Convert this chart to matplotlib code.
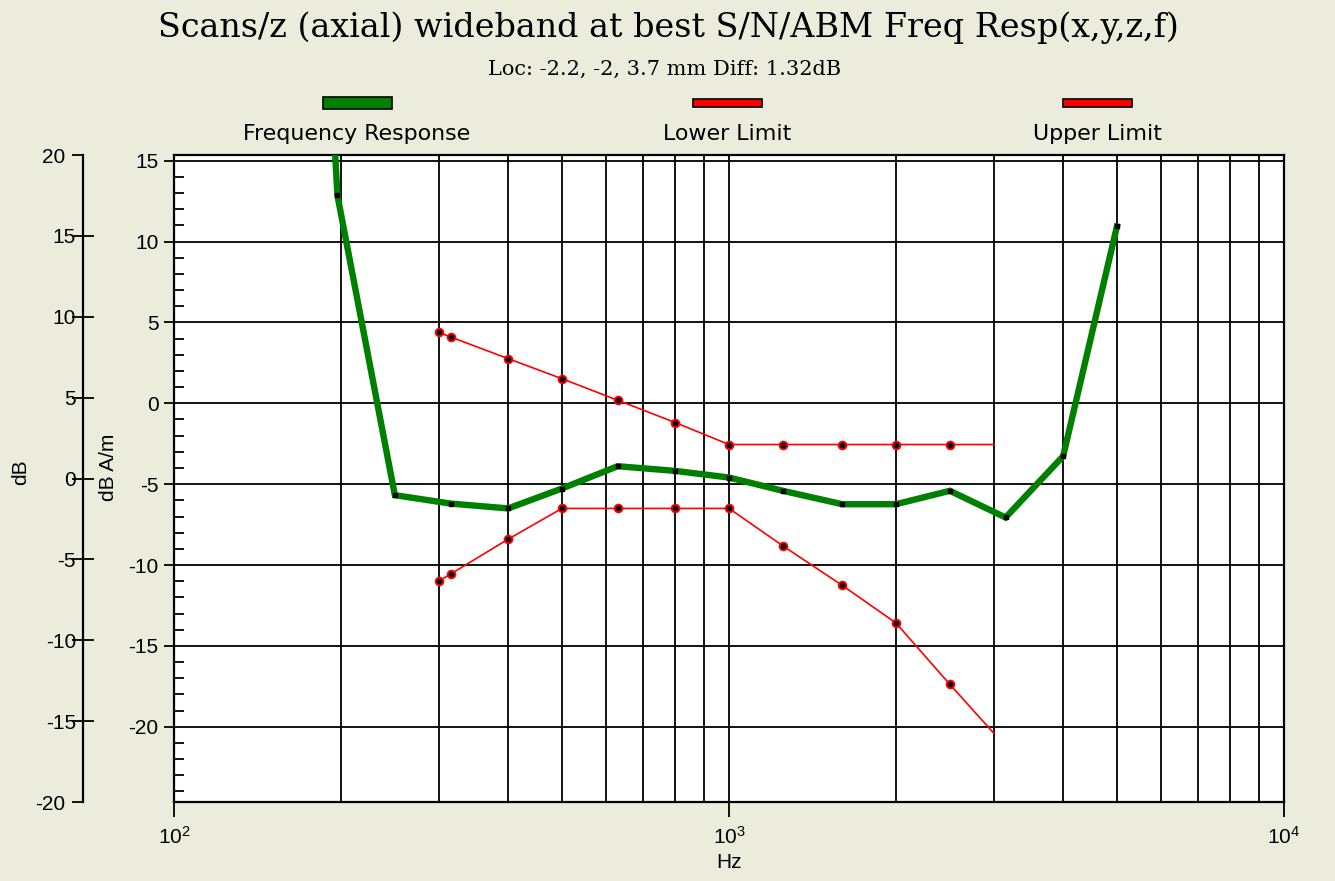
import matplotlib
matplotlib.use("Agg")
import matplotlib.pyplot as plt
from matplotlib.ticker import FixedLocator, MultipleLocator, LogLocator, NullFormatter, FixedFormatter
from matplotlib.patches import Rectangle

# ---- data ----
resp_freq = [194, 197, 250, 315, 400, 500, 630, 800, 1000, 1250, 1600, 2000, 2500, 3150, 4000, 5000]
resp_db = [17.0, 12.85, -5.68, -6.2, -6.5, -5.27, -3.89, -4.18, -4.59, -5.41, -6.24, -6.24, -5.41, -7.06, -3.27, 10.93]

lim_freq = [300, 315, 400, 500, 630, 800, 1000, 1250, 1600, 2000, 2500, 3000]
upper_db = [4.39, 4.1, 2.76, 1.52, 0.19, -1.19, -2.55, -2.55, -2.55, -2.55, -2.55, -2.55]
lower_db = [-10.99, -10.56, -8.4, -6.5, -6.5, -6.5, -6.5, -8.81, -11.26, -13.59, -17.38, -20.4]

outer_ticks = [-20, -15, -10, -5, 0, 5, 10, 15, 20]
x_tick_vals = [100, 1000, 10000]
x_tick_labels = [r"$10^{2}$", r"$10^{3}$", r"$10^{4}$"]

title = "Scans/z (axial) wideband at best S/N/ABM Freq Resp(x,y,z,f)"
subtitle = "Loc: -2.2, -2, 3.7 mm Diff: 1.32dB"
legend_labels = ["Frequency Response", "Lower Limit", "Upper Limit"]

# ---- layout ----
W, H = 1335, 881
BG = "#ECECDC"
plt.rcParams['font.family'] = ['Liberation Sans', 'DejaVu Sans']
plt.rcParams['axes.unicode_minus'] = False
plt.rcParams['mathtext.fontset'] = 'custom'
plt.rcParams['mathtext.rm'] = 'Liberation Sans'
plt.rcParams['mathtext.it'] = 'Liberation Sans'

fig = plt.figure(figsize=(W / 100, H / 100), dpi=100, facecolor=BG)

def fx(px):
    return px / W

def fy(py):
    return 1 - py / H

left, right, top, bottom = 174, 1284, 155, 802
ax = fig.add_axes([fx(left), fy(bottom), fx(right - left), (bottom - top) / H])
ax.set_facecolor("white")
ax.set_xscale("log")
ax.set_xlim(100, 10000)
ax.set_ylim(-24.65, 15.35)
ax.set_axisbelow(True)

ax.xaxis.set_major_locator(FixedLocator(x_tick_vals))
ax.xaxis.set_major_formatter(FixedFormatter(x_tick_labels))
ax.xaxis.set_minor_locator(LogLocator(base=10, subs=[2, 3, 4, 5, 6, 7, 8, 9]))
ax.xaxis.set_minor_formatter(NullFormatter())
ax.yaxis.set_major_locator(MultipleLocator(5))
ax.yaxis.set_minor_locator(MultipleLocator(1))

ax.grid(True, which="both", axis="x", color="black", linewidth=1.3)
ax.grid(True, which="major", axis="y", color="black", linewidth=1.3)

ax.tick_params(axis="x", which="major", direction="out", length=11, width=1.3, labelsize=15, pad=6)
ax.tick_params(axis="x", which="minor", length=0)
ax.tick_params(axis="y", which="major", direction="out", length=7, width=1.3, labelsize=15, pad=4)
ax.tick_params(axis="y", which="minor", direction="in", length=7, width=1.3)
for s in ax.spines.values():
    s.set_linewidth(1.6)
    s.set_color("black")

# series
ax.plot(resp_freq, resp_db, color="#008000", linewidth=4.6, solid_joinstyle="miter", zorder=3)
ax.plot(resp_freq[1:], resp_db[1:], linestyle="none", marker="s", markersize=2.5,
        color="black", zorder=4)
for ydata in (upper_db, lower_db):
    ax.plot(lim_freq, ydata, color="#FF0000", linewidth=1.2, zorder=3)
    ax.plot(lim_freq[:-1], ydata[:-1], linestyle="none", marker="o", markersize=5.5,
            markerfacecolor="black", markeredgecolor="#FF0000", markeredgewidth=1.4, zorder=4)

# outer axis (dB)
ax2 = fig.add_axes([fx(83), fy(bottom), 0.0005, (bottom - top) / H])
ax2.set_facecolor("none")
for k in ("top", "right", "bottom"):
    ax2.spines[k].set_visible(False)
ax2.spines["left"].set_linewidth(1.6)
ax2.set_xticks([])
ax2.set_ylim(-20, 20)
ax2.yaxis.set_major_locator(FixedLocator([outer_ticks[0], outer_ticks[-1]]))
ax2.yaxis.set_major_formatter(FixedFormatter([str(outer_ticks[0]), str(outer_ticks[-1])]))
ax2.yaxis.set_minor_locator(FixedLocator(outer_ticks[1:-1]))
ax2.yaxis.set_minor_formatter(FixedFormatter([str(v) for v in outer_ticks[1:-1]]))
ax2.tick_params(axis="y", which="major", direction="out", length=8, width=1.3, labelsize=15, pad=5)
ax2.tick_params(axis="y", which="minor", direction="inout", length=16, width=1.3, labelsize=15, pad=-3)

# axis labels
fig.text(fx(21), fy(472), "dB", rotation=90, ha="center", va="center", fontsize=15)
fig.text(fx(109), fy(467), "dB A/m", rotation=90, ha="center", va="center", fontsize=15)
fig.text(fx(729), fy(862), "Hz", ha="center", va="center", fontsize=15)

# titles
fig.text(fx(668), fy(28), title, ha="center", va="center", fontsize=24,
         family=["DejaVu Serif"])
fig.text(fx(665), fy(69), subtitle, ha="center", va="center", fontsize=15,
         family=["DejaVu Serif"])

# legend
leg_specs = [(323, 97, 12, "#008000", 357), (693, 99, 8, "#FF0000", 727), (1063, 99, 8, "#FF0000", 1097)]
for (x0, y0, h, col, cx), lab in zip(leg_specs, legend_labels):
    fig.patches.append(Rectangle((fx(x0), fy(y0 + h)), 69 / W, h / H, transform=fig.transFigure,
                                 facecolor=col, edgecolor="black", linewidth=1.2))
    fig.text(fx(cx), fy(134), lab, ha="center", va="center", fontsize=15.9,
             family=["DejaVu Sans"])

fig.savefig("out.png", dpi=100, facecolor=BG)
